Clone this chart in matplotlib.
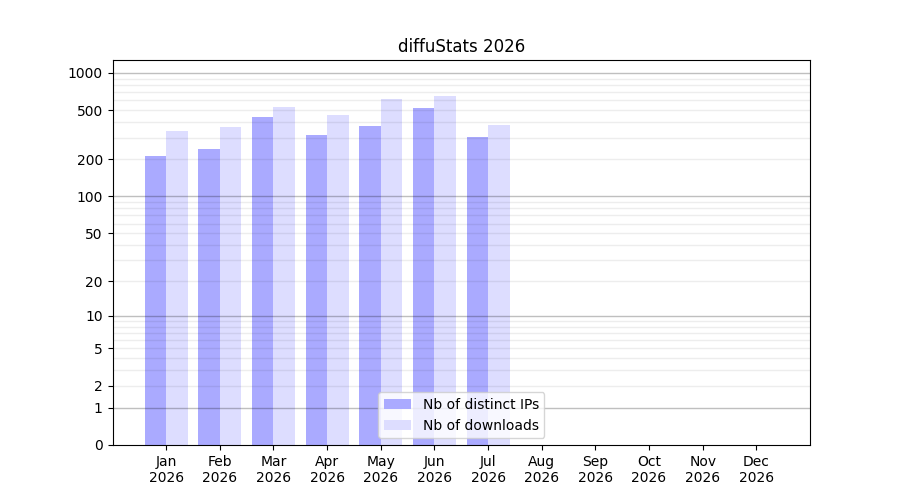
import numpy as np
import matplotlib
matplotlib.use("Agg")
import matplotlib.pyplot as plt

months = ["Jan\n2026", "Feb\n2026", "Mar\n2026", "Apr\n2026", "May\n2026", "Jun\n2026",
          "Jul\n2026", "Aug\n2026", "Sep\n2026", "Oct\n2026", "Nov\n2026", "Dec\n2026"]
distinct_ips = [211, 244, 443, 317, 375, 524, 305]
downloads = [342, 368, 534, 460, 619, 655, 382]
ytick_values = [0, 1, 2, 5, 10, 20, 50, 100, 200, 500, 1000]

fig, ax = plt.subplots(figsize=(9, 5), dpi=100)

def fwd(x):
    return np.log10(np.maximum(np.asarray(x, dtype=float), 0) + 1)

def inv(y):
    return 10 ** np.asarray(y, dtype=float) - 1

ax.set_yscale("function", functions=(fwd, inv))

x = np.arange(len(distinct_ips))
ax.bar(x - 0.2, distinct_ips, width=0.4, color="#aaaaff", label="Nb of distinct IPs", zorder=1)
ax.bar(x + 0.2, downloads, width=0.4, color="#ddddff", label="Nb of downloads", zorder=1)

# grid lines
for dec in [1, 10, 100]:
    for m in range(2, 10):
        ax.axhline(m * dec, color="black", alpha=0.07, lw=1, zorder=2)
for p in [1, 10, 100, 1000]:
    ax.axhline(p, color="black", alpha=0.25, lw=1, zorder=2)

ax.set_xlim(-1, 12)
ax.set_ylim(0, 1270)
ax.set_xticks(np.arange(12))
ax.set_xticklabels(months)
ax.set_yticks(ytick_values)
ax.set_yticklabels([str(v) for v in ytick_values])
ax.yaxis.set_minor_locator(matplotlib.ticker.NullLocator())
ax.set_title("diffuStats 2026")
leg = ax.legend(loc="lower center")
leg.set_zorder(5)

fig.savefig("out.png", dpi=100)
